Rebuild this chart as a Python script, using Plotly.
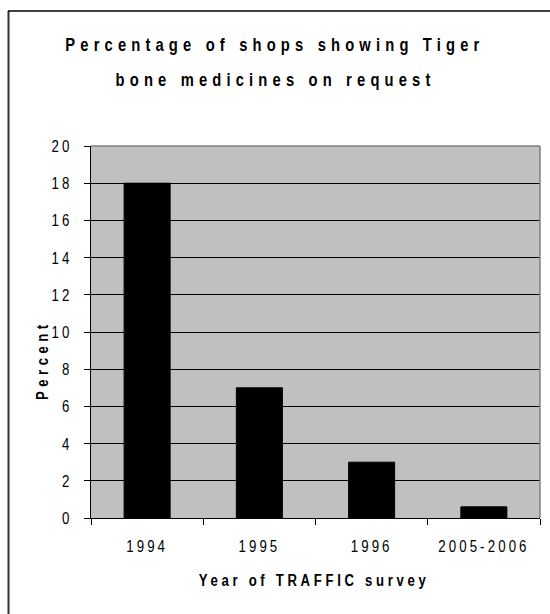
import plotly.graph_objects as go

# Survey years and share of shops that showed tiger bone medicines on request
surveys = ["1994", "1995", "1996", "2005-2006"]
percent_shops = [18, 7, 3, 0.6]
y_ticks = [0, 2, 4, 6, 8, 10, 12, 14, 16, 18, 20]

title_lines = ["Percentage of shops showing Tiger", "bone medicines on request"]
x_title = "Year of TRAFFIC survey"
y_title = "Percent"

W, H = 550, 614
L, R, T, B = 91, 10, 146, 96
PW, PH = W - L - R, H - T - B

FONT = "Liberation Sans, Arial, sans-serif"


def fx(px):
    """Pixel column -> paper x."""
    return (px - L) / PW


def fy(py):
    """Pixel row -> paper y."""
    return (H - B - py) / PH


fig = go.Figure(
    go.Bar(
        x=surveys,
        y=percent_shops,
        marker=dict(color="black", line=dict(color="black", width=1)),
        hoverinfo="x+y",
    )
)

fig.update_layout(
    width=W,
    height=H,
    margin=dict(l=L, r=R, t=T, b=B, pad=0),
    paper_bgcolor="white",
    plot_bgcolor="#C0C0C0",
    bargap=0.59,
    showlegend=False,
    font=dict(family=FONT, color="black"),
)

fig.update_xaxes(
    type="category",
    showline=True,
    linecolor="black",
    linewidth=1,
    ticks="outside",
    tickson="boundaries",
    ticklen=6,
    tickcolor="black",
    tickwidth=1,
    showgrid=False,
    tickfont=dict(size=17, family=FONT),
    ticklabelstandoff=13,
)

fig.update_yaxes(
    range=[0, 20],
    tickvals=y_ticks,
    showline=True,
    linecolor="black",
    linewidth=1,
    ticks="outside",
    ticklen=6,
    tickcolor="black",
    tickwidth=1,
    showgrid=True,
    gridcolor="black",
    gridwidth=1,
    zeroline=False,
    tickfont=dict(size=17, family=FONT),
    ticklabelstandoff=8,
)

# Two-line chart heading (annotations 0 and 1)
for line, py in zip(title_lines, [45, 80]):
    fig.add_annotation(
        text=line,
        xref="paper", yref="paper",
        x=fx(275), y=fy(py),
        xanchor="center", yanchor="middle",
        showarrow=False,
        font=dict(size=18, family=FONT, weight="bold", color="black"),
    )

# Axis titles (annotations 2 and 3)
fig.add_annotation(
    text=y_title, textangle=-90,
    xref="paper", yref="paper", x=fx(42.5), y=fy(360),
    xanchor="center", yanchor="middle", showarrow=False,
    font=dict(size=16, family=FONT, weight="bold", color="black"),
)
fig.add_annotation(
    text=x_title,
    xref="paper", yref="paper", x=fx(314), y=fy(580),
    xanchor="center", yanchor="middle", showarrow=False,
    font=dict(size=16, family=FONT, weight="bold", color="black"),
)

# Gray top/right edges of the plotting area
fig.add_shape(type="line", xref="paper", yref="paper", x0=0, x1=1, y0=1, y1=1,
              line=dict(color="#808080", width=1.5), layer="above")
fig.add_shape(type="line", xref="paper", yref="paper", x0=1, x1=1, y0=0, y1=1,
              line=dict(color="#808080", width=1.5), layer="above")

# Chart frame (left and top edges)
fig.add_shape(type="line", xref="paper", yref="paper", x0=fx(8.5), x1=fx(8.5), y0=fy(11), y1=fy(640),
              line=dict(color="#333333", width=2))
fig.add_shape(type="line", xref="paper", yref="paper", x0=fx(8), x1=fx(600), y0=fy(11), y1=fy(11),
              line=dict(color="black", width=1.5))

# Condensed, letter-spaced lettering for every label
post_js = """
var gd = document.getElementById('{plot_id}');
function squeeze(el, spacing, sx, pivot) {
  if ((el.getAttribute('transform') || '').indexOf('scale(') >= 0) return;
  el.style.letterSpacing = spacing + 'px';
  var bb = el.getBBox();
  var px = pivot === 'end' ? bb.x + bb.width : bb.x + bb.width / 2;
  var t = el.getAttribute('transform') || '';
  el.setAttribute('transform', t + ' translate(' + px + ',0) scale(' + sx + ',1) translate(' + (-px) + ',0)');
}
function styleText() {
  var annSpacing = {'0': 6.3, '1': 6.3, '2': 5.5, '3': 4.5};
  gd.querySelectorAll('g.annotation').forEach(function(g) {
    var i = g.getAttribute('data-index');
    var t = g.querySelector('text.annotation-text');
    if (t) squeeze(t, annSpacing[i] || 4, 0.82, 'middle');
  });
  gd.querySelectorAll('.xtick text').forEach(function(t) { squeeze(t, 4, 0.78, 'middle'); });
  gd.querySelectorAll('.ytick text').forEach(function(t) { squeeze(t, 4, 0.78, 'end'); });
}
styleText();
gd.on('plotly_afterplot', styleText);
"""

fig.write_html("out.html", post_script=post_js)
